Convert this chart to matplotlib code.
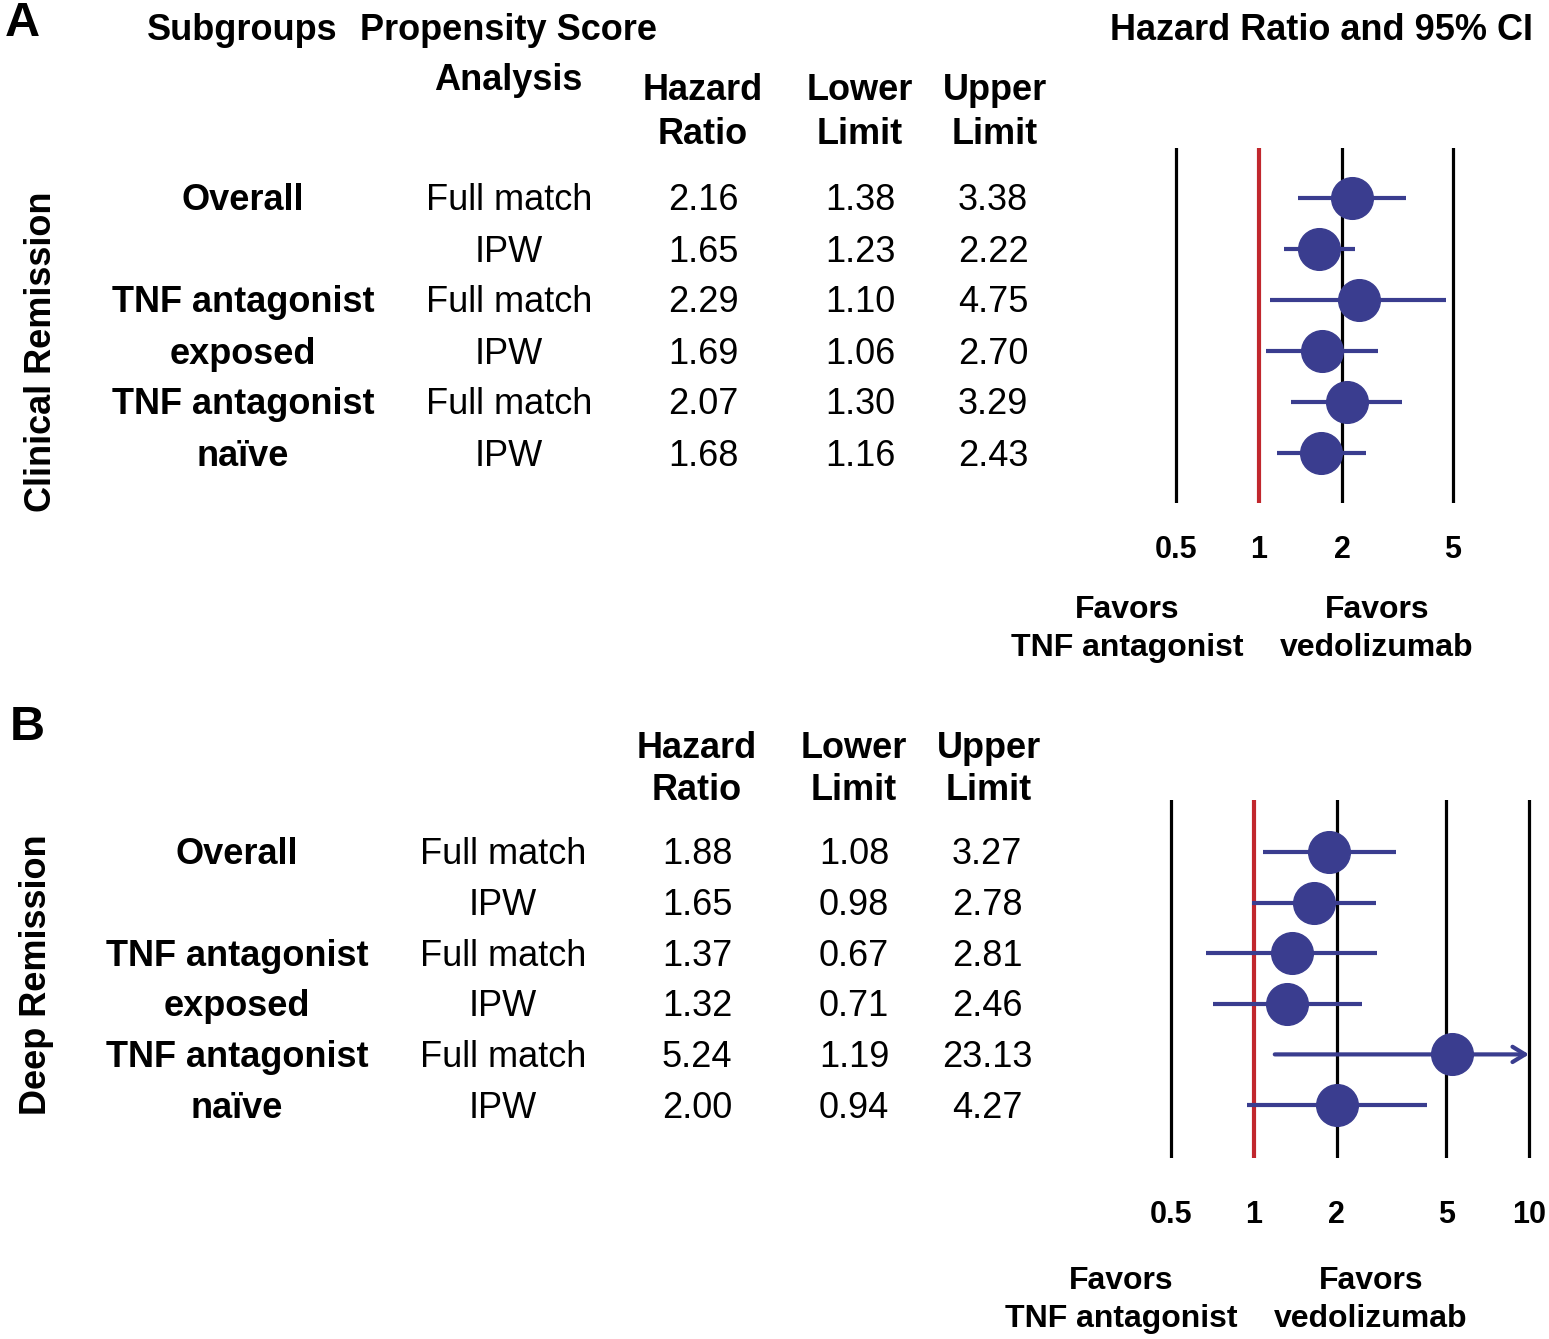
import math
import matplotlib
matplotlib.use("Agg")
import matplotlib.pyplot as plt
from matplotlib.ticker import NullLocator
from matplotlib.transforms import blended_transform_factory, offset_copy

plt.rcParams['font.family'] = ['Liberation Sans', 'DejaVu Sans']

# podaci
podgrupe = ["Overall", "", "TNF antagonist", "exposed", "TNF antagonist", "naïve"]
analiza = ["Full match", "IPW", "Full match", "IPW", "Full match", "IPW"]

hr_a = [2.16, 1.65, 2.29, 1.69, 2.07, 1.68]
lo_a = [1.38, 1.23, 1.10, 1.06, 1.30, 1.16]
hi_a = [3.38, 2.22, 4.75, 2.70, 3.29, 2.43]

hr_b = [1.88, 1.65, 1.37, 1.32, 5.24, 2.00]
lo_b = [1.08, 0.98, 0.67, 0.71, 1.19, 0.94]
hi_b = [3.27, 2.78, 2.81, 2.46, 23.13, 4.27]

ticks_a = [0.5, 1, 2, 5]
ticks_b = [0.5, 1, 2, 5, 10]

W, H = 1549, 1339
PLAVA = '#3a3d8f'
CRVENA = '#c1272d'
POMAK_Y = 3  # tekst malo nize (px)

fig = plt.figure(figsize=(W / 100, H / 100), dpi=100)


def fx(px):
    return px / W


def fy(py):
    return 1 - (py + POMAK_Y) / H


def forest(x_jedan, px_dek, y_vrh, y_dno, y_red0, razmak, hr, lo, hi, ticks, xmax, pad):
    # os u pikselima: x = x_jedan + px_dek*log10(v)
    xmin = 0.42
    lijevo = x_jedan + px_dek * math.log10(xmin)
    desno = x_jedan + px_dek * math.log10(xmax)
    ax = fig.add_axes([fx(lijevo), 1 - y_dno / H, (desno - lijevo) / W, (y_dno - y_vrh) / H])
    ax.set_xscale('log')
    ax.set_xlim(xmin, xmax)
    gore = (y_vrh - y_red0) / razmak
    dolje = (y_dno - y_red0) / razmak
    ax.set_ylim(dolje, gore)
    for t in ticks:
        if t == 1:
            ax.axvline(t, color=CRVENA, lw=3, zorder=1)
        else:
            ax.axvline(t, color='black', lw=2.3, zorder=1)
    n = len(hr)
    for i in range(n):
        gornja = min(hi[i], ticks[-1])
        if hi[i] > ticks[-1]:
            ax.annotate('', xy=(gornja, i), xytext=(lo[i], i),
                        arrowprops=dict(arrowstyle='->,head_length=0.9,head_width=0.55',
                                        lw=3, color=PLAVA, shrinkA=0, shrinkB=0), zorder=2)
        else:
            ax.plot([lo[i], gornja], [i, i], color=PLAVA, lw=3, solid_capstyle='butt', zorder=2)
    ax.plot(hr, range(n), 'o', color=PLAVA, markersize=30, zorder=3)
    ax.set_xticks(ticks)
    ax.set_xticklabels([f"{t:g}" for t in ticks], fontsize=22, fontweight='bold')
    ax.xaxis.set_minor_locator(NullLocator())
    ax.tick_params(axis='x', length=0, pad=pad)
    ax.set_yticks([])
    for s in ax.spines.values():
        s.set_visible(False)
    ax.patch.set_alpha(0)
    return ax


def tablica(ax, pomak, hr, lo, hi):
    tr = blended_transform_factory(fig.transFigure, ax.transData)
    tr = offset_copy(tr, fig=fig, y=-POMAK_Y, units='dots')
    for i in range(len(hr)):
        if podgrupe[i]:
            fig.text(fx(243 + pomak), i, podgrupe[i], transform=tr, ha='center', va='center',
                     fontsize=26, fontweight='bold')
        fig.text(fx(509 + pomak), i, analiza[i], transform=tr, ha='center', va='center', fontsize=26)
        fig.text(fx(703 + pomak), i, f"{hr[i]:.2f}", transform=tr, ha='center', va='center', fontsize=26)
        fig.text(fx(860 + pomak), i, f"{lo[i]:.2f}", transform=tr, ha='center', va='center', fontsize=26)
        fig.text(fx(993 + pomak), i, f"{hi[i]:.2f}", transform=tr, ha='center', va='center', fontsize=26)


def zaglavlje(pomak, y1, y2):
    for x, a, b in [(703, "Hazard", "Ratio"), (860, "Lower", "Limit"), (995, "Upper", "Limit")]:
        fig.text(fx(x + pomak), fy(y1), a, ha='center', va='center', fontsize=26, fontweight='bold')
        fig.text(fx(x + pomak), fy(y2), b, ha='center', va='center', fontsize=26, fontweight='bold')


def favors(x1, x2, y1, y2):
    fig.text(fx(x1), fy(y1), "Favors", ha='center', va='center', fontsize=23, fontweight='bold')
    fig.text(fx(x1), fy(y2), "TNF antagonist", ha='center', va='center', fontsize=23, fontweight='bold')
    fig.text(fx(x2), fy(y1), "Favors", ha='center', va='center', fontsize=23, fontweight='bold')
    fig.text(fx(x2), fy(y2), "vedolizumab", ha='center', va='center', fontsize=23, fontweight='bold')


# Panel A
ax_a = forest(1259, 277, 148, 503, 198, 51, hr_a, lo_a, hi_a, ticks_a, 11, 23)
tablica(ax_a, 0, hr_a, lo_a, hi_a)
zaglavlje(0, 88, 131)
favors(1127, 1377, 607, 645)
fig.text(fx(5), fy(20), "A", ha='left', va='center', fontsize=35, fontweight='bold')
fig.text(fx(242), fy(28), "Subgroups", ha='center', va='center', fontsize=26, fontweight='bold')
fig.text(fx(508), fy(28), "Propensity Score", ha='center', va='center', fontsize=26, fontweight='bold')
fig.text(fx(508), fy(78), "Analysis", ha='center', va='center', fontsize=26, fontweight='bold')
fig.text(fx(1322), fy(28), "Hazard Ratio and 95% CI", ha='center', va='center', fontsize=26, fontweight='bold')
fig.text(fx(42), fy(349), "Clinical Remission", ha='center', va='center', rotation=90,
         fontsize=26, fontweight='bold')

# Panel B
ax_b = forest(1254, 275, 800, 1158, 852, 50.6, hr_b, lo_b, hi_b, ticks_b, 11, 30)
tablica(ax_b, -6, hr_b, lo_b, hi_b)
zaglavlje(-6, 745, 788)
favors(1121, 1371, 1278, 1316)
fig.text(fx(10), fy(725), "B", ha='left', va='center', fontsize=35, fontweight='bold')
fig.text(fx(37), fy(972), "Deep Remission", ha='center', va='center', rotation=90,
         fontsize=26, fontweight='bold')

plt.savefig("out.png", dpi=100)
